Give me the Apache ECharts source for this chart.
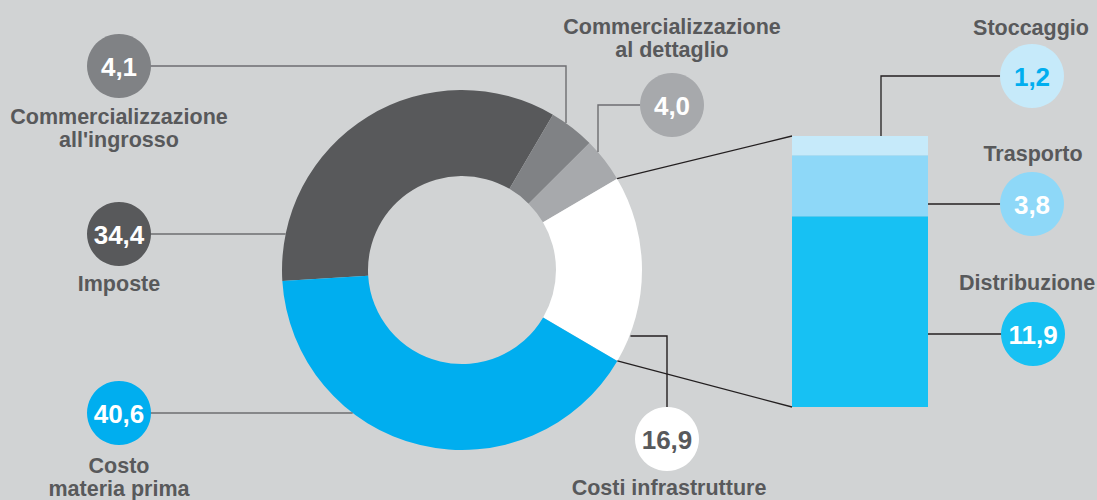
<!DOCTYPE html>
<html>
<head>
<meta charset="utf-8">
<script src="https://cdn.jsdelivr.net/npm/echarts@6/dist/echarts.min.js"></script>
<style>
  html, body { margin: 0; padding: 0; background: #d1d3d4; }
  #chart { width: 1097px; height: 500px; }
</style>
</head>
<body>
<div id="chart"></div>
<script>
// Composizione del prezzo: voci principali (anello) e dettaglio dei costi infrastrutturali (barra)
const sliceNames = ['Imposte', "Commercializzazione\nall'ingrosso", 'Commercializzazione\nal dettaglio', 'Costi infrastrutture', 'Costo\nmateria prima'];
const sliceValues = [34.4, 4.1, 4.0, 16.9, 40.6];
const sliceColors = ['#58595b', '#808285', '#a7a9ac', '#ffffff', '#00aeef'];

const infraNames = ['Distribuzione', 'Trasporto', 'Stoccaggio'];
const infraValues = [11.9, 3.8, 1.2];
const infraColors = ['#17c1f3', '#8ed8f8', '#c6eafa'];

const INFRA_INDEX = 3; // slice exploded into the bar

const TEXT = '#58595b';
const FONT = '"Liberation Sans", Arial, Helvetica, sans-serif';
const BG = '#d1d3d4';

const PIE_CENTER = [462, 270];
const R_IN = 94, R_OUT = 180, START = 183.5;
const GRID = { left: 792, top: 136, width: 136, height: 271 };

// Callout placement for the ring: circle centre, elbow and caption position
const pieCallouts = [
  { idx: 0, c: [119, 234], route: 'h', label: [119, 284] },
  { idx: 1, c: [119, 66], route: 'hv', elbow: 566, label: [119, 117] },
  { idx: 2, c: [672, 105], route: 'hv', elbow: 598, label: [672, 27] },
  { idx: 3, c: [667, 439], route: 'vh', elbow: 336, label: [669, 488], text: TEXT },
  { idx: 4, c: [119, 413], route: 'h', label: [119, 466] }
];
// Callout placement for the bar segments
const barCallouts = [
  { idx: 0, c: [1033, 334], label: [1027, 283] },
  { idx: 1, c: [1032, 204], label: [1033, 154] },
  { idx: 2, c: [1032, 76], label: [1031, 28], elbow: 881, text: '#00aeef' }
];

const fmt = v => v.toFixed(1).replace('.', ',');
const total = sliceValues.reduce((a, b) => a + b, 0);
const infraTotal = infraValues.reduce((a, b) => a + b, 0);

const chart = echarts.init(document.getElementById('chart'), null, { renderer: 'svg' });

chart.setOption({
  backgroundColor: BG,
  animation: false,
  grid: GRID,
  xAxis: { type: 'category', data: ['infrastrutture'], show: false },
  yAxis: { type: 'value', min: 0, max: infraTotal, show: false },
  series: [
    {
      type: 'pie',
      center: PIE_CENTER,
      radius: [R_IN, R_OUT],
      startAngle: START,
      clockwise: true,
      silent: true,
      label: { show: false },
      labelLine: { show: false },
      itemStyle: { borderWidth: 0 },
      data: sliceNames.map((n, i) => ({ name: n, value: sliceValues[i], itemStyle: { color: sliceColors[i] } }))
    },
    ...infraNames.map((n, i) => ({
      type: 'bar',
      name: n,
      stack: 'infra',
      barWidth: '100%',
      silent: true,
      itemStyle: { color: infraColors[i] },
      data: [infraValues[i]]
    }))
  ]
});

// Ring geometry, following the pie's own angular layout
const rad = d => d * Math.PI / 180;
const boundaries = [START];
let acc = 0;
sliceValues.forEach(v => { acc += v; boundaries.push(START - 360 * acc / total); });
const ringPoint = (deg, r) => [PIE_CENTER[0] + r * Math.cos(rad(deg)), PIE_CENTER[1] - r * Math.sin(rad(deg))];
// where a horizontal line at y meets the outer edge (side = -1 left, +1 right)
const edgeAtY = (y, side) => [PIE_CENTER[0] + side * Math.sqrt(R_OUT * R_OUT - (y - PIE_CENTER[1]) ** 2), y];
// where a vertical line at x meets the upper outer edge
const edgeAtX = x => [x, PIE_CENTER[1] - Math.sqrt(R_OUT * R_OUT - (x - PIE_CENTER[0]) ** 2)];

const barX = GRID.left, barRight = GRID.left + GRID.width;
const yPix = v => chart.convertToPixel({ yAxisIndex: 0 }, v);

const graphics = [];
const line = (pts, color, w) => graphics.push({
  type: 'polyline', silent: true, z: 5,
  shape: { points: pts },
  style: { stroke: color, lineWidth: w, fill: null }
});
const bubble = (c, fill, value, textColor) => {
  graphics.push({ type: 'circle', silent: true, z: 10, shape: { cx: c[0], cy: c[1], r: 32 }, style: { fill: fill } });
  graphics.push({
    type: 'text', silent: true, z: 11, x: c[0], y: c[1] + 1,
    style: { text: fmt(value), fill: textColor, font: 'bold 26px ' + FONT, align: 'center', verticalAlign: 'middle' }
  });
};
const caption = (p, txt) => graphics.push({
  type: 'text', silent: true, z: 11, x: p[0], y: p[1],
  style: { text: txt, fill: TEXT, font: 'bold 21.5px ' + FONT, align: 'center', verticalAlign: 'middle', lineHeight: 23 }
});
// captions given by their first line centre
const captionTop = (p, txt) => {
  caption([p[0], p[1] + (txt.split('\n').length - 1) * 11.5], txt);
};

// Lines joining the infrastructure slice to the bar
const infraStart = ringPoint(boundaries[INFRA_INDEX], R_OUT);
const infraEnd = ringPoint(boundaries[INFRA_INDEX + 1], R_OUT);
line([infraStart, [barX, yPix(infraTotal)]], '#231f20', 1.3);
line([infraEnd, [barX, yPix(0)]], '#231f20', 1.3);

// Ring callouts
pieCallouts.forEach(cfg => {
  const i = cfg.idx;
  const c = cfg.c;
  let pts;
  if (cfg.route === 'h') {
    const side = c[0] < PIE_CENTER[0] ? -1 : 1;
    pts = [[c[0], c[1]], edgeAtY(c[1], side)];
  } else if (cfg.route === 'hv') {
    const end = edgeAtX(cfg.elbow);
    pts = [[c[0], c[1]], [cfg.elbow, c[1]], end];
  } else {
    const end = edgeAtY(cfg.elbow, 1);
    pts = [[c[0], c[1]], [c[0], cfg.elbow], [end[0] + 1, end[1]]];
  }
  line(pts, i === INFRA_INDEX ? '#231f20' : '#6d6e71', 1.4);
  bubble(c, sliceColors[i], sliceValues[i], cfg.text || '#ffffff');
  captionTop(cfg.label, sliceNames[i]);
});

// Bar callouts
let cum = 0;
const segTop = [];
infraValues.forEach(v => { cum += v; segTop.push(cum); });
barCallouts.forEach(cfg => {
  const i = cfg.idx;
  const c = cfg.c;
  if (cfg.elbow) {
    line([[c[0], c[1]], [cfg.elbow, c[1]], [cfg.elbow, yPix(segTop[i])]], '#231f20', 1.3);
  } else {
    line([[barRight, c[1]], [c[0], c[1]]], '#231f20', 1.3);
  }
  bubble(c, infraColors[i], infraValues[i], cfg.text || '#ffffff');
  captionTop(cfg.label, infraNames[i]);
});

chart.setOption({ graphic: graphics });
</script>
</body>
</html>
